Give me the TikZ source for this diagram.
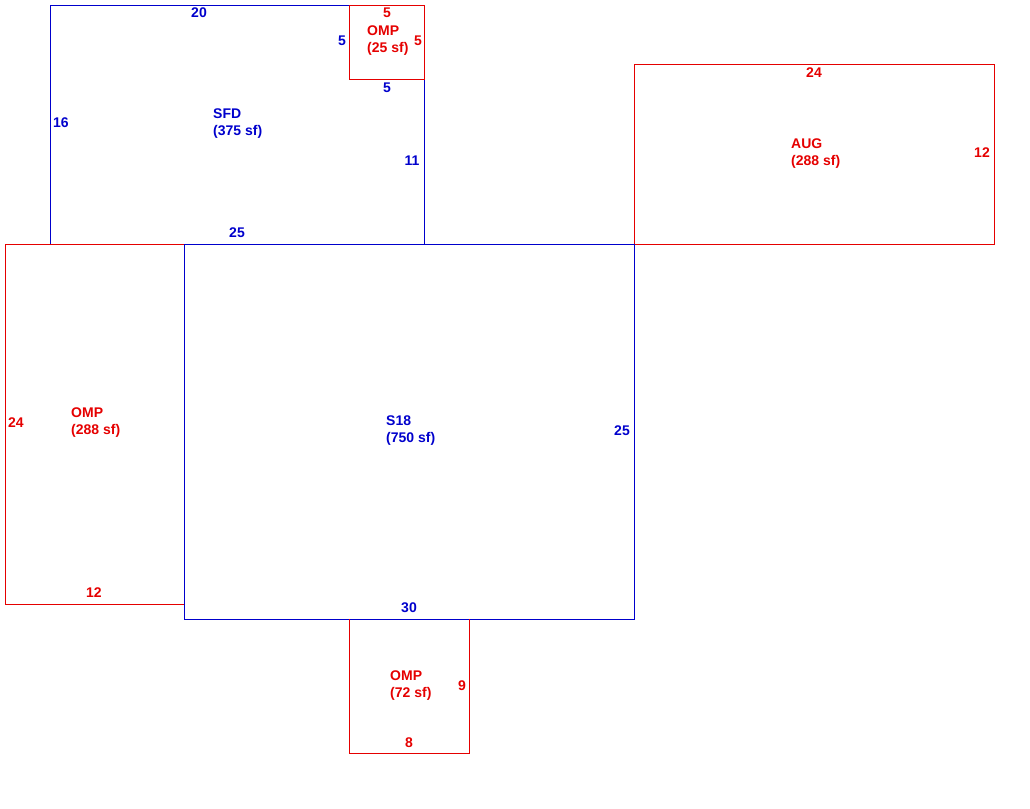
\documentclass[tikz,border=0pt]{standalone}
\usepackage{fontspec}
\setmainfont{Liberation Sans}
\begin{document}
\begin{tikzpicture}[x=1pt,y=-1pt,
  bl/.style={draw=blue!80!black,line width=0.9pt},
  rd/.style={draw=red!90!black,line width=0.9pt},
  dim/.style={font=\fontsize{14}{16}\selectfont\bfseries,inner sep=0pt},
  db/.style={dim,text=blue!80!black},
  dr/.style={dim,text=red!90!black},
  lab/.style={font=\fontsize{14}{17}\selectfont\bfseries,inner sep=0pt,anchor=north west,align=left}]
\useasboundingbox (0,0) rectangle (1030,808);
% SFD
\draw[bl] (349,5) -- (50,5) -- (50,244) -- (424,244) -- (424,79);
% OMP small
\draw[rd] (349,5) rectangle (424,79);
% AUG
\draw[rd] (634,64) rectangle (994,244);
% OMP left
\draw[rd] (184,244) -- (5,244) -- (5,604) -- (184,604);
% S18
\draw[bl] (184,244) rectangle (634,619);
% OMP bottom
\draw[rd] (349,619) -- (349,753) -- (469,753) -- (469,619);
% dims
\node[db] (d1) at (199,13) {20};
\node[dr] (d2) at (387,13) {5};
\node[db] (d3) at (342,41) {5};
\node[dr] (d4) at (418,41) {5};
\node[db] (d5) at (387,88) {5};
\node[db] (d6) at (61,123) {16};
\node[db] (d7) at (412,161) {11};
\node[db] (d8) at (237,233) {25};
\node[dr] (d9) at (814,73) {24};
\node[dr] (d10) at (982,153) {12};
\node[dr] (d11) at (16,423) {24};
\node[dr] (d12) at (94,593) {12};
\node[db] (d13) at (622,431) {25};
\node[db] (d14) at (409,608) {30};
\node[dr] (d15) at (462,686) {9};
\node[dr] (d16) at (409,743) {8};
% area labels
\node[lab,text=blue!80!black] (l1) at (213,109) {SFD\\(375 sf)};
\node[lab,text=red!90!black] (l2) at (367,26) {OMP\\(25 sf)};
\node[lab,text=red!90!black] (l3) at (791,139) {AUG\\(288 sf)};
\node[lab,text=red!90!black] (l4) at (71,408) {OMP\\(288 sf)};
\node[lab,text=blue!80!black] (l5) at (386,416) {S18\\(750 sf)};
\node[lab,text=red!90!black] (l6) at (390,671) {OMP\\(72 sf)};
\end{tikzpicture}
\end{document}
